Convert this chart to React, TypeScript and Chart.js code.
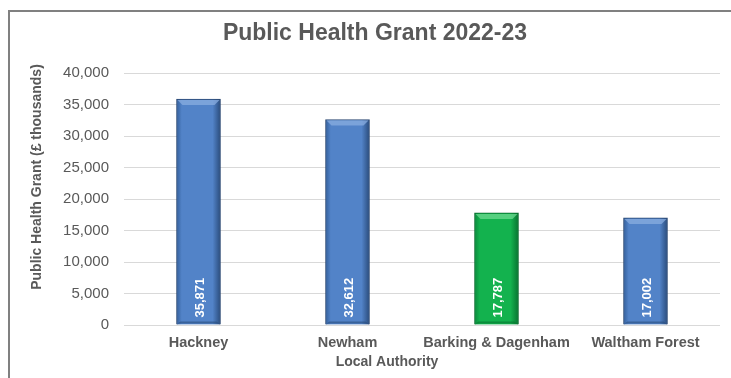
import React, { useEffect, useRef } from "react";
import { Chart, registerables } from "chart.js";

Chart.register(...registerables);

const titleText = "Public Health Grant 2022-23";
const categories = ["Hackney", "Newham", "Barking & Dagenham", "Waltham Forest"];
const grantValues = [35871, 32612, 17787, 17002];
const barKinds = ["blue", "blue", "green", "blue"];
const yTitle = "Public Health Grant (£ thousands)";
const xTitle = "Local Authority";
const yMax = 40000;
const yStep = 5000;

const palettes: Record<string, { edgeL: string; mid: string; edgeR: string; border: string; top: string }> = {
  blue: { edgeL: "#34609c", mid: "#5283c8", edgeR: "#2a4c7c", border: "#2b4872", top: "#8aaee0" },
  green: { edgeL: "#0a8a3c", mid: "#13b24e", edgeR: "#087331", border: "#096a2d", top: "#6cd990" },
};

const FONT = "'Liberation Sans', Arial, sans-serif";

const decorPlugin = {
  id: "decor",
  afterDatasetsDraw(chart: any) {
    const ctx = chart.ctx;
    const meta = chart.getDatasetMeta(0);
    ctx.save();
    meta.data.forEach((bar: any, i: number) => {
      const p = palettes[barKinds[i]];
      const w = bar.width;
      const left = bar.x - w / 2;
      const top = bar.y;
      const bottom = bar.base;
      ctx.fillStyle = p.top;
      ctx.globalAlpha = 0.75;
      ctx.beginPath();
      ctx.moveTo(left + 1, top + 1);
      ctx.lineTo(left + w - 1, top + 1);
      ctx.lineTo(left + w - 6, top + 6);
      ctx.lineTo(left + 6, top + 6);
      ctx.closePath();
      ctx.fill();
      ctx.globalAlpha = 0.6;
      ctx.fillStyle = p.edgeR;
      ctx.beginPath();
      ctx.moveTo(left + 1, bottom - 1);
      ctx.lineTo(left + w - 1, bottom - 1);
      ctx.lineTo(left + w - 4, bottom - 3);
      ctx.lineTo(left + 4, bottom - 3);
      ctx.closePath();
      ctx.fill();
      ctx.globalAlpha = 1;
      ctx.save();
      ctx.translate(bar.x + 2, bottom - 7);
      ctx.rotate(-Math.PI / 2);
      ctx.fillStyle = "#ffffff";
      ctx.font = `bold 13px ${FONT}`;
      ctx.textAlign = "left";
      ctx.textBaseline = "middle";
      ctx.fillText(grantValues[i].toLocaleString("en-US"), 0, 0);
      ctx.restore();
    });
    ctx.fillStyle = "#595959";
    ctx.textAlign = "center";
    ctx.textBaseline = "middle";
    ctx.font = `bold 23px ${FONT}`;
    ctx.fillText(titleText, 365, 22);
    ctx.font = `bold 14px ${FONT}`;
    ctx.fillText(xTitle, 377, 350);
    ctx.save();
    ctx.translate(27, 165);
    ctx.rotate(-Math.PI / 2);
    ctx.fillText(yTitle, 0, 0);
    ctx.restore();
    ctx.restore();
  },
};

export default function App() {
  const ref = useRef<HTMLCanvasElement>(null);
  useEffect(() => {
    if (!ref.current) return;
    const chart = new Chart(ref.current, {
      type: "bar",
      data: {
        labels: categories,
        datasets: [
          {
            data: grantValues,
            backgroundColor: (c: any) => {
              const ch = c.chart;
              const xs = ch.scales?.x;
              const p = palettes[barKinds[c.dataIndex] || "blue"];
              if (!xs || c.dataIndex === undefined) return p.mid;
              const cx = xs.getPixelForValue(c.dataIndex);
              if (!Number.isFinite(cx)) return p.mid;
              const w = 44;
              const g = ch.ctx.createLinearGradient(cx - w / 2, 0, cx + w / 2, 0);
              g.addColorStop(0, p.edgeL);
              g.addColorStop(0.12, p.mid);
              g.addColorStop(0.82, p.mid);
              g.addColorStop(1, p.edgeR);
              return g;
            },
            borderColor: (c: any) => palettes[barKinds[c.dataIndex] || "blue"].border,
            borderWidth: 1,
            barThickness: 44,
          },
        ],
      },
      options: {
        animation: false,
        responsive: true,
        maintainAspectRatio: false,
        layout: { padding: { top: 61, right: 11, bottom: 0, left: 0 } },
        plugins: { legend: { display: false }, tooltip: { enabled: false }, title: { display: false } },
        scales: {
          x: {
            grid: { display: false, drawTicks: false },
            border: { display: false },
            ticks: {
              color: "#595959",
              font: { family: FONT, size: 14.5, weight: "bold" },
              padding: 9,
              maxRotation: 0,
              autoSkip: false,
            },
            afterFit: (s: any) => {
              s.height = 53;
            },
          },
          y: {
            min: 0,
            max: yMax,
            ticks: {
              stepSize: yStep,
              color: "#595959",
              font: { family: FONT, size: 15 },
              padding: 15,
              callback: (v: any) => Number(v).toLocaleString("en-US"),
            },
            grid: { color: "#d9d9d9", drawTicks: false },
            border: { display: false },
            afterFit: (s: any) => {
              s.width = 114;
            },
          },
        },
      },
      plugins: [decorPlugin],
    });
    return () => chart.destroy();
  }, []);
  return (
    <div
      style={{
        position: "absolute",
        left: 8,
        top: 10,
        width: 721,
        height: 366,
        overflow: "hidden",
        borderTop: "2px solid #808080",
        borderLeft: "2px solid #808080",
        background: "#fff",
      }}
    >
      <div style={{ position: "relative", width: 721, height: 366 }}>
        <canvas ref={ref} />
      </div>
    </div>
  );
}
